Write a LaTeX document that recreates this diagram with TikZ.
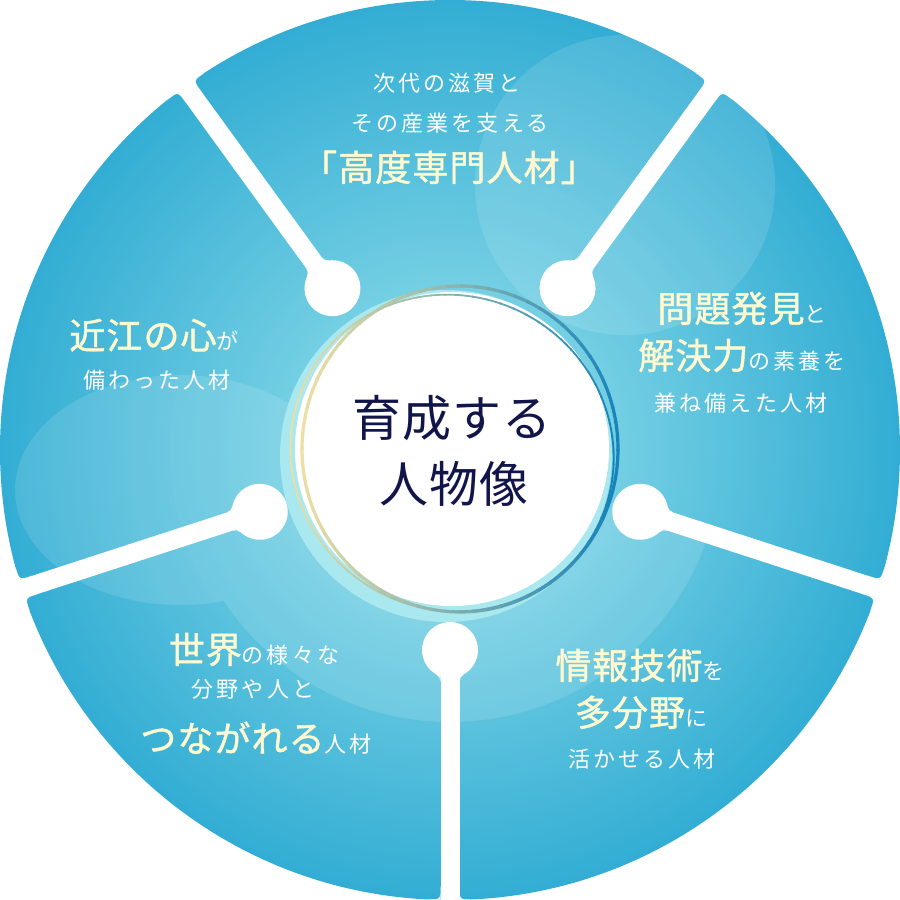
\documentclass[tikz,border=0pt]{standalone}
\usepackage{fontspec}
\usetikzlibrary{calc}
\newfontfamily\jpS{Noto Sans CJK JP}[LetterSpace=14]
\newfontfamily\jpB{Noto Sans CJK JP}[LetterSpace=3, FakeBold=1.2]
\newfontfamily\jpC{Noto Sans CJK JP}[LetterSpace=2]
\definecolor{cream}{HTML}{FFF9D0}
\definecolor{navy}{HTML}{12154A}
\definecolor{halo}{HTML}{A9E8EF}
\definecolor{ringyel}{HTML}{EEDFA4}
\definecolor{ringblue}{HTML}{1683BA}
\newcommand\bigT[1]{{\color{cream}\jpB\fontsize{36}{40}\selectfont #1}}
\newcommand\smT[1]{{\color{white}\jpS\fontsize{22}{26}\selectfont #1}}
\begin{document}
\begin{tikzpicture}[x=1pt,y=-1pt,
  txt/.style={inner sep=0pt, anchor=base},
  ctr/.style={inner sep=0pt, anchor=base, text=navy, font=\jpC\fontsize{49}{54}\selectfont},
  gapfill/.style={fill=white},
  decor/.style={fill=white, opacity=0.12}]
\useasboundingbox (0,0) rectangle (900,900);
\coordinate (C) at (450,450);
% radial gradient disc
\foreach \i in {0,...,89}{
  \pgfmathsetmacro\r{450-5*\i}
  \pgfmathsetmacro\ta{min(\r,170)/170}
  \pgfmathsetmacro\tb{max(\r-170,0)/280}
  \pgfmathsetmacro\R{0.58-0.13*\ta-0.25*\tb}
  \pgfmathsetmacro\G{0.87-0.06*\ta-0.13*\tb}
  \pgfmathsetmacro\B{0.92-0.03*\ta-0.06*\tb}
  \definecolor{gc}{rgb}{\R,\G,\B}
  \fill[gc] (C) circle[radius=\r];
}
% decorative light shapes
\fill[decor] (C) -- ($(C)+(18:272)$) arc[start angle=18, end angle=162, radius=272] -- cycle
  (180,490) ellipse[x radius=165, y radius=115]
  (625,185) circle[radius=150];
% gaps, knobs, fillets, rounded outer corners
\foreach \g in {18,90,162,234,306}{
  \begin{scope}[shift={(C)}, rotate=-\g]
    \fill[gapfill] (200,-9.5) rectangle (470,9.5);
    \fill[gapfill] (200,0) circle[radius=28];
    \fill[gapfill] (224.47,13.61) arc[start angle=209, end angle=270, radius=8] -- (220,9.5) -- cycle;
    \fill[gapfill] (224.47,-13.61) arc[start angle=151, end angle=90, radius=8] -- (220,-9.5) -- cycle;
    \fill[gapfill] (436,9.5) .. controls (449.9,9.5) .. (449.3,23.1) -- (451,9.5) -- cycle;
    \fill[gapfill] (436,-9.5) .. controls (449.9,-9.5) .. (449.3,-23.1) -- (451,-9.5) -- cycle;
  \end{scope}
}
% centre
\fill[halo] (446,456) circle[radius=166];
\fill[white] (452,449) circle[radius=157];
\foreach \a in {0,5,...,355}{
  \pgfmathsetmacro\p{50+50*cos(\a)}
  \draw[line width=3.2, color=ringblue!\p!ringyel] ({460+158*cos(\a)},{449+163*sin(\a)}) arc[start angle=\a, delta angle=5.6, x radius=158, y radius=163];
}
\begin{scope}[shift={(452,453)}, rotate=-28]
\foreach \a in {0,5,...,355}{
  \pgfmathsetmacro\p{50+50*cos(\a+28)}
  \draw[line width=1.8, color=ringblue!\p!ringyel] ({163*cos(\a)},{157*sin(\a)}) arc[start angle=\a, delta angle=5.6, x radius=163, y radius=157];
}
\end{scope}
% centre text
\node[ctr] (c1) at (452,436) {育成する};
\node[ctr] (c2) at (454,502) {人物像};
% top
\node[txt] (t1) at (447,91) {\smT{次代の滋賀と}};
\node[txt] (t2) at (450,131) {\smT{その産業を支える}};
\node[txt] (t3) at (449,181) {\bigT{「高度専門人材」}};
% right
\node[txt] (r1) at (742,322) {\bigT{問題発見}\smT{と}};
\node[txt] (r2) at (742,369) {\bigT{解決力}\smT{の素養を}};
\node[txt] (r3) at (741,411) {\smT{兼ね備えた人材}};
% bottom right
\node[txt] (b1) at (640,679) {\bigT{情報技術}\smT{を}};
\node[txt] (b2) at (641,726) {\bigT{多分野}\smT{に}};
\node[txt] (b3) at (642,767) {\smT{活かせる人材}};
% bottom left
\node[txt] (l1) at (254,663) {\bigT{世界}\smT{の様々な}};
\node[txt] (l2) at (253,697) {\smT{分野や人と}};
\node[txt] (l3) at (256,752) {\bigT{つながれる}\smT{人材}};
% left
\node[txt] (w1) at (154,349) {\bigT{近江の心}\smT{が}};
\node[txt] (w2) at (157,388) {\smT{備わった人材}};
\end{tikzpicture}
\end{document}
